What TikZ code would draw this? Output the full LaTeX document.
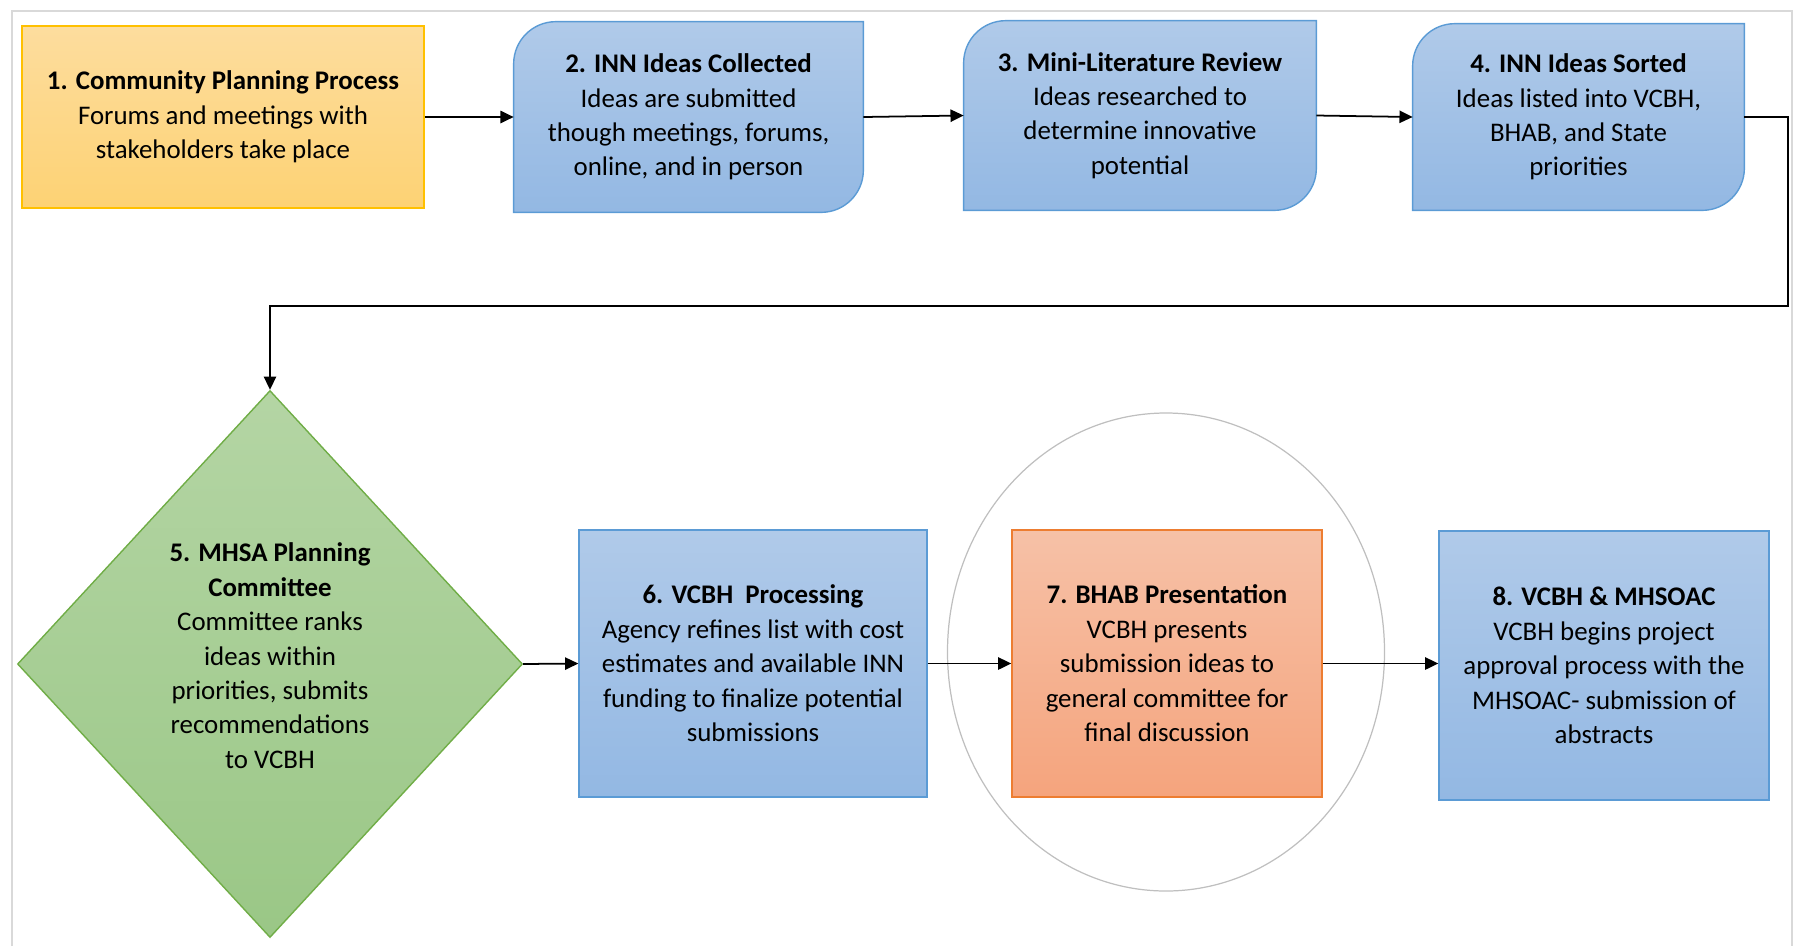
\documentclass[tikz,border=0pt]{standalone}
\usepackage{fontspec}
\setmainfont{Carlito}
\usetikzlibrary{shapes.geometric,arrows.meta,backgrounds}

\definecolor{yelTop}{HTML}{FDDD9E}
\definecolor{yelBot}{HTML}{FDD274}
\definecolor{yelLine}{HTML}{FFC000}
\definecolor{bluTop}{HTML}{B0CAE9}
\definecolor{bluBot}{HTML}{93B8E3}
\definecolor{bluLine}{HTML}{5B9BD5}
\definecolor{grnTop}{HTML}{B4D5A4}
\definecolor{grnBot}{HTML}{9AC786}
\definecolor{grnLine}{HTML}{70AD47}
\definecolor{orgTop}{HTML}{F6C1A7}
\definecolor{orgBot}{HTML}{F5A47D}
\definecolor{orgLine}{HTML}{ED7D31}
\definecolor{frameGray}{HTML}{D9D9D9}
\definecolor{ringGray}{HTML}{BFBFBF}

\begin{document}
\begin{tikzpicture}[x=0.2mm, y=-0.2mm,
  >={Triangle[length=7.5pt,width=7pt]},
  box/.style={rectangle, inner sep=0pt, align=center, font=\fontsize{15.3}{19.6}\selectfont},
  yelbox/.style={box, top color=yelTop, bottom color=yelBot, draw=yelLine, line width=0.8pt},
  blubox/.style={box, top color=bluTop, bottom color=bluBot, draw=bluLine, line width=0.8pt},
  orgbox/.style={box, top color=orgTop, bottom color=orgBot, draw=orgLine, line width=0.8pt},
  grndiam/.style={box, diamond, top color=grnTop, bottom color=grnBot, draw=grnLine, line width=0.8pt},
  blufill/.style={top color=bluTop, bottom color=bluBot, draw=bluLine, line width=0.8pt},
  link/.style={->, line width=1pt}]
  \useasboundingbox (0,0) rectangle (1799,946);

  % Moldura
  \draw[frameGray, line width=1.4pt] (12,946) -- (12,11) -- (1792,11) -- (1792,946);

  % Linha de cima
  \node[yelbox, minimum width=80.4mm, minimum height=36.4mm] (b1) at (223,117)
    {\textbf{1. Community Planning Process}\\ Forums and meetings with\\ stakeholders take place};
  \node[box, minimum width=69.8mm, minimum height=38mm] (b2) at (688.5,117)
    {\textbf{2. INN Ideas Collected}\\ Ideas are submitted\\ though meetings, forums,\\ online, and in person};
  \node[box, minimum width=70.4mm, minimum height=37.8mm] (b3) at (1140,115.5)
    {\textbf{3. Mini-Literature Review}\\ Ideas researched to\\ determine innovative\\ potential};
  \node[box, minimum width=66.2mm, minimum height=37.2mm] (b4) at (1578.5,117)
    {\textbf{4. INN Ideas Sorted}\\ Ideas listed into VCBH,\\ BHAB, and State\\ priorities};

  % Cantos arredondados
  \begin{scope}[on background layer]
    \foreach \n in {b2,b3,b4}
      \path[blufill] (\n.south west) -- ([yshift=-24pt]\n.north west)
        arc[start angle=180, end angle=90, radius=24pt] -- (\n.north east)
        -- ([yshift=24pt]\n.south east)
        arc[start angle=0, end angle=-90, radius=24pt] -- cycle;
  \end{scope}

  % Linha de baixo
  \node[grndiam, minimum width=101mm, minimum height=109.4mm] (d5) at (270,664)
    {\textbf{5. MHSA Planning}\\ \textbf{Committee}\\ Committee ranks\\ ideas within\\ priorities, submits\\ recommendations\\ to VCBH\\[-10pt]\mbox{}};
  \node[blubox, minimum width=69.6mm, minimum height=53.4mm] (b6) at (753,663.5)
    {\textbf{6. VCBH\ \ Processing}\\ Agency refines list with cost\\ estimates and available INN\\ funding to finalize potential\\ submissions};
  \node[ellipse, draw=ringGray, line width=0.7pt, minimum width=87.4mm, minimum height=95.6mm] (ring) at (1166,652) {};
  \node[orgbox, minimum width=62mm, minimum height=53.4mm] (b7) at (1167,663.5)
    {\textbf{7. BHAB Presentation}\\ VCBH presents\\ submission ideas to\\ general committee for\\ final discussion};
  \node[blubox, minimum width=66mm, minimum height=53.8mm] (b8) at (1604,665.5)
    {\textbf{8. VCBH \& MHSOAC}\\ VCBH begins project\\ approval process with the\\ MHSOAC- submission of\\ abstracts};

  % Setas
  \coordinate (turnA) at (1788,306);
  \coordinate (turnB) at (270,306);
  \draw[link] (b1) -- (b2);
  \draw[link] (b2.east) -- (b3.west);
  \draw[link] (b3.east) -- (b4.west);
  \draw[link, line width=0.8pt] (b4.east) -| (turnA) -- (turnB) -- (d5.north);
  \draw[link] (d5.east) -- (b6.west);
  \draw[link] (b6.east) -- (b7.west);
  \draw[link] (b7.east) -- (b7.east -| b8.west);
\end{tikzpicture}
\end{document}
